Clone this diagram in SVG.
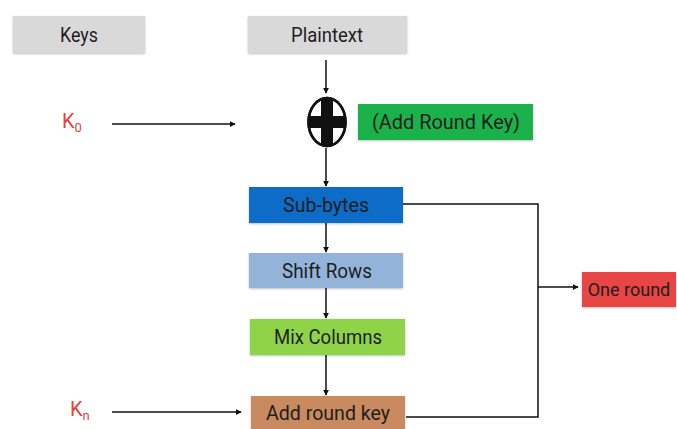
<svg xmlns="http://www.w3.org/2000/svg" width="677" height="429" viewBox="0 0 677 429">
<style>
  .lbl { font-family: Roboto, "Liberation Sans", sans-serif; font-size: 20px; fill: #1e1e1e; text-anchor: middle; dominant-baseline: central; }
  .key { font-family: Roboto, "Liberation Sans", sans-serif; font-size: 20px; fill: #e8403a; }
  .sub { font-size: 13px; }
  .line { stroke: #111; stroke-width: 1.5; fill: none; }
  .arr { marker-end: url(#ah); }
</style>
<defs>
  <marker id="ah" viewBox="0 0 8 8" refX="7" refY="4" markerWidth="6" markerHeight="6" orient="auto" markerUnits="userSpaceOnUse">
    <path d="M0,0 L8,4 L0,8 z" fill="#111"/>
  </marker>
  <filter id="sh" x="-10%" y="-20%" width="120%" height="150%">
    <feDropShadow dx="0" dy="1" stdDeviation="1.2" flood-color="#000" flood-opacity="0.25"/>
  </filter>
</defs>
<rect width="677" height="429" fill="#fff"/>

<g id="connectors">
  <line class="line arr" x1="326" y1="60" x2="326" y2="93"/>
  <line class="line arr" x1="112" y1="124" x2="235" y2="124"/>
  <line class="line arr" x1="326" y1="148" x2="326" y2="186"/>
  <line class="line arr" x1="326" y1="223" x2="326" y2="252"/>
  <line class="line arr" x1="326" y1="288" x2="326" y2="318"/>
  <line class="line arr" x1="326" y1="355" x2="326" y2="395"/>
  <line class="line arr" x1="112" y1="412" x2="241" y2="412"/>
  <polyline class="line" points="403,204 538,204 538,417 406,417"/>
  <line class="line arr" x1="538" y1="287" x2="578" y2="287"/>
</g>

<g id="keys">
  <rect x="13" y="16" width="132" height="37" fill="#d9d9d9" filter="url(#sh)"/>
  <text class="lbl" x="79" y="35" textLength="38" lengthAdjust="spacingAndGlyphs">Keys</text>
</g>
<g id="plaintext">
  <rect x="248" y="16" width="159" height="37" fill="#d9d9d9" filter="url(#sh)"/>
  <text class="lbl" x="327" y="35" textLength="72" lengthAdjust="spacingAndGlyphs">Plaintext</text>
</g>
<g id="k0">
  <text class="key" x="62" y="128">K<tspan class="sub" dy="4">0</tspan></text>
</g>
<g id="xor">
  <ellipse cx="327" cy="122" rx="18.5" ry="24" fill="#fff" stroke="#111" stroke-width="2.5"/>
  <path d="M321,98.5 H333 V116 H345.5 V128 H333 V145.5 H321 V128 H308.5 V116 H321 Z" fill="#111"/>
  <ellipse cx="327" cy="122" rx="18.5" ry="24" fill="none" stroke="#111" stroke-width="2.5"/>
</g>
<g id="addroundkey0">
  <rect x="358" y="104" width="175" height="36" fill="#1db24c" filter="url(#sh)"/>
  <text class="lbl" x="446" y="122" textLength="148" lengthAdjust="spacingAndGlyphs">(Add Round Key)</text>
</g>
<g id="subbytes">
  <rect x="249" y="187" width="154" height="36" fill="#0d6cc7" filter="url(#sh)"/>
  <text class="lbl" x="326" y="205" textLength="86" lengthAdjust="spacingAndGlyphs" fill="#14284a">Sub-bytes</text>
</g>
<g id="shiftrows">
  <rect x="249" y="253" width="154" height="35" fill="#93b4d8" filter="url(#sh)"/>
  <text class="lbl" x="327" y="270.5" textLength="90" lengthAdjust="spacingAndGlyphs">Shift Rows</text>
</g>
<g id="mixcolumns">
  <rect x="250" y="319" width="155" height="36" fill="#8fd34a" filter="url(#sh)"/>
  <text class="lbl" x="328" y="337" textLength="108" lengthAdjust="spacingAndGlyphs">Mix Columns</text>
</g>
<g id="kn">
  <text class="key" x="70" y="416">K<tspan class="sub" dy="4">n</tspan></text>
</g>
<g id="addroundkey">
  <rect x="251" y="396" width="154" height="36" fill="#c98a5e" filter="url(#sh)"/>
  <text class="lbl" x="328" y="413" textLength="124" lengthAdjust="spacingAndGlyphs">Add round key</text>
</g>
<g id="oneround">
  <rect x="582" y="272" width="94" height="35" fill="#e84545" filter="url(#sh)"/>
  <text class="lbl" x="629" y="289.5" style="font-size:18px">One round</text>
</g>
</svg>
